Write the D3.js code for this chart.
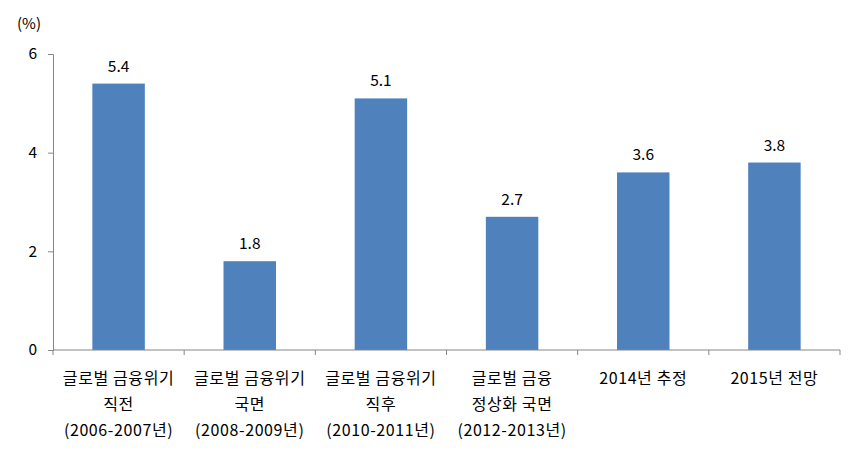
<!DOCTYPE html>
<html><head><meta charset="utf-8">
<script src="https://cdn.jsdelivr.net/npm/d3@7"></script>
<style>body{margin:0;background:#fff}text{font-family:"Noto Sans CJK KR","Noto Sans",sans-serif;fill:#000}</style>
</head><body><svg id="c" width="854" height="453"></svg>
<script>
const categories = [
  ["글로벌 금융위기","직전","(2006-2007년)"],
  ["글로벌 금융위기","국면","(2008-2009년)"],
  ["글로벌 금융위기","직후","(2010-2011년)"],
  ["글로벌 금융","정상화 국면","(2012-2013년)"],
  ["2014년 추정"],
  ["2015년 전망"]
];
const values = [5.4, 1.8, 5.1, 2.7, 3.6, 3.8];
const yTicks = [0, 2, 4, 6];
const unitLabel = "(%)";

const svg = d3.select("#c");
const m = {l:53, r:14, t:54, b:103};
const W = 854, H = 453;
const x = d3.scaleBand().domain(d3.range(categories.length)).range([m.l, W-m.r]).paddingInner(0.6).paddingOuter(0.3);
const y = d3.scaleLinear().domain([0,6]).range([H-m.b, m.t]);
const axisCol = "#868686";

svg.selectAll("rect.bar").data(values).join("rect").attr("class","bar")
  .attr("x",(d,i)=>x(i)).attr("width",x.bandwidth())
  .attr("y",d=>y(d)).attr("height",d=>y(0)-y(d)).attr("fill","#4f81bd");

svg.selectAll("text.val").data(values).join("text").attr("class","val")
  .attr("x",(d,i)=>x(i)+x.bandwidth()/2).attr("y",d=>y(d)-12)
  .attr("text-anchor","middle").attr("font-size",15.5).text(d=>d.toFixed(1));

const ya = svg.append("g").attr("transform",`translate(${m.l},0)`)
  .call(d3.axisLeft(y).tickValues(yTicks).tickSize(5).tickPadding(11).tickFormat(d3.format("d")));
ya.select(".domain").attr("stroke",axisCol);
ya.selectAll(".tick line").attr("stroke",axisCol);
ya.selectAll(".tick text").attr("font-size",15.5).attr("font-family",'"Noto Sans CJK KR",sans-serif');

const xEdges = d3.range(categories.length+1).map(i=>m.l + (W-m.l-m.r)*i/categories.length);
const xa = svg.append("g");
xa.append("line").attr("x1",m.l).attr("x2",W-m.r).attr("y1",y(0)).attr("y2",y(0)).attr("stroke",axisCol);
xa.selectAll("line.tk").data(xEdges).join("line").attr("class","tk")
  .attr("x1",d=>d).attr("x2",d=>d).attr("y1",y(0)).attr("y2",y(0)+5).attr("stroke",axisCol);

svg.selectAll("text.cat").data(categories).join("text").attr("class","cat")
  .attr("text-anchor","middle").attr("font-size",16).attr("letter-spacing",0.6)
  .each(function(lines,i){
    const t = d3.select(this);
    lines.forEach((s,j)=>{
      t.append("tspan").attr("x",x(i)+x.bandwidth()/2).attr("y",y(0)+34+j*26).text(s);
    });
  });

svg.append("text").attr("x",29).attr("y",29).attr("text-anchor","middle").attr("font-size",15).text(unitLabel);
</script></body></html>
